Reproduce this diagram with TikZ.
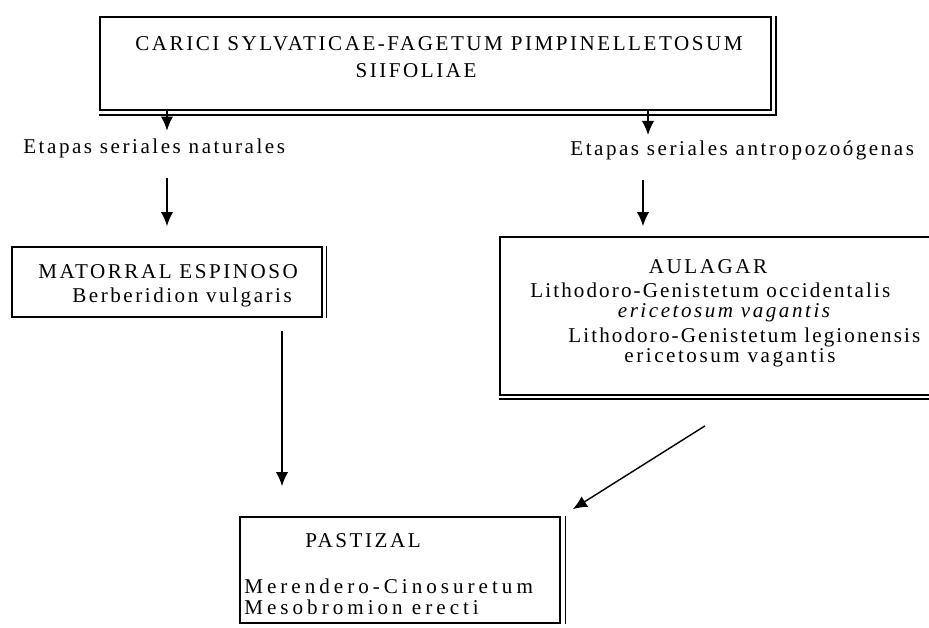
\documentclass[tikz,border=0pt]{standalone}
\usepackage{fontspec}
\setmainfont{Liberation Serif}
\usetikzlibrary{arrows.meta,positioning}

\tikzset{
  box/.style={draw, rectangle, line width=1pt, inner sep=0pt},
  flow/.style={-{Latex[length=8pt,width=7pt]}, line width=0.8pt},
  txt/.style={draw=none, inner sep=0pt, font=\fontsize{12}{14}\selectfont\addfontfeature{LetterSpace=12}},
  wide/.style={font=\fontsize{12}{14}\selectfont\addfontfeature{LetterSpace=19}},
  tight/.style={font=\fontsize{12}{14}\selectfont\addfontfeature{LetterSpace=10}},
}

\begin{document}
\begin{tikzpicture}[x=0.02cm, y=-0.02cm]
\useasboundingbox (0,0) rectangle (929,627);

% cajas
\node[box, minimum width=13.42cm, minimum height=1.86cm] (top) at (435.5,63.5) {};
\node[box, minimum width=6.2cm, minimum height=1.4cm] (mat) at (167,282) {};
\node[box, minimum width=8.8cm, minimum height=3.16cm] (aul) at (720,316) {};
\node[box, minimum width=6.4cm, minimum height=2.12cm] (pas) at (400,570) {};

% bordes dobles
\draw[line width=0.9pt] ([xshift=0.8mm]top.north east) -- ([xshift=0.8mm, yshift=-0.8mm]top.south east) -- ([yshift=-0.8mm]top.south west);
\draw[line width=0.9pt] ([xshift=0.7mm]mat.north east) -- ([xshift=0.7mm]mat.south east);
\draw[line width=0.9pt] ([yshift=-0.6mm]aul.south west) -- ([yshift=-0.6mm]aul.south east);
\draw[line width=0.9pt] ([xshift=0.9mm]pas.north east) -- ([xshift=0.9mm]pas.south east);

% textos
\node[txt] (top1) at (439,44) {CARICI SYLVATICAE-FAGETUM PIMPINELLETOSUM};
\node[txt] (top2) at (416,71) {SIIFOLIAE};
\node[txt, anchor=west] (nat) at (23,148) {Etapas seriales naturales};
\node[txt, anchor=west] (ant) at (570,150) {Etapas seriales antropozoógenas};

\node[txt, anchor=west] (mat1) at (38,272) {MATORRAL ESPINOSO};
\node[txt, anchor=west] (mat2) at (72,297) {Berberidion vulgaris};

\node[txt] (aul1) at (708,267) {AULAGAR};
\node[txt, tight, anchor=west] (aul2) at (530,290) {Lithodoro-Genistetum occidentalis};
\node[txt] (aul3) at (724,313) {\itshape ericetosum vagantis};
\node[txt, tight, anchor=west] (aul4) at (568,337) {Lithodoro-Genistetum legionensis};
\node[txt] (aul5) at (730,358) {ericetosum vagantis};

\node[txt] (pas1) at (363,541) {PASTIZAL};
\node[txt, wide, anchor=west] (pas2) at (244,586) {Merendero-Cinosuretum};
\node[txt, wide, anchor=west] (pas3) at (244,607) {Mesobromion erecti};

% flechas
\draw[flow] (top.south -| mat.north) -- ([yshift=1.5mm]nat.north -| mat.north);
\draw[flow] (top.south -| 648,0) -- ([yshift=1mm]ant.north -| 648,0);
\draw[flow] ([yshift=-4mm]nat.south -| mat.north) -- ([yshift=4mm]mat.north);
\draw[flow] ([yshift=-4mm]ant.south -| 643,0) -- ([yshift=2mm]aul.north -| 643,0);
\draw[flow] ([yshift=-2.6mm]mat.south -| 282,0) -- ([yshift=6mm]pas.north -| 282,0);
\draw[flow] ([yshift=-6mm]aul.south -| 705,0) -- ([shift={(0.24cm,0.14cm)}]pas.north east);

\end{tikzpicture}
\end{document}
